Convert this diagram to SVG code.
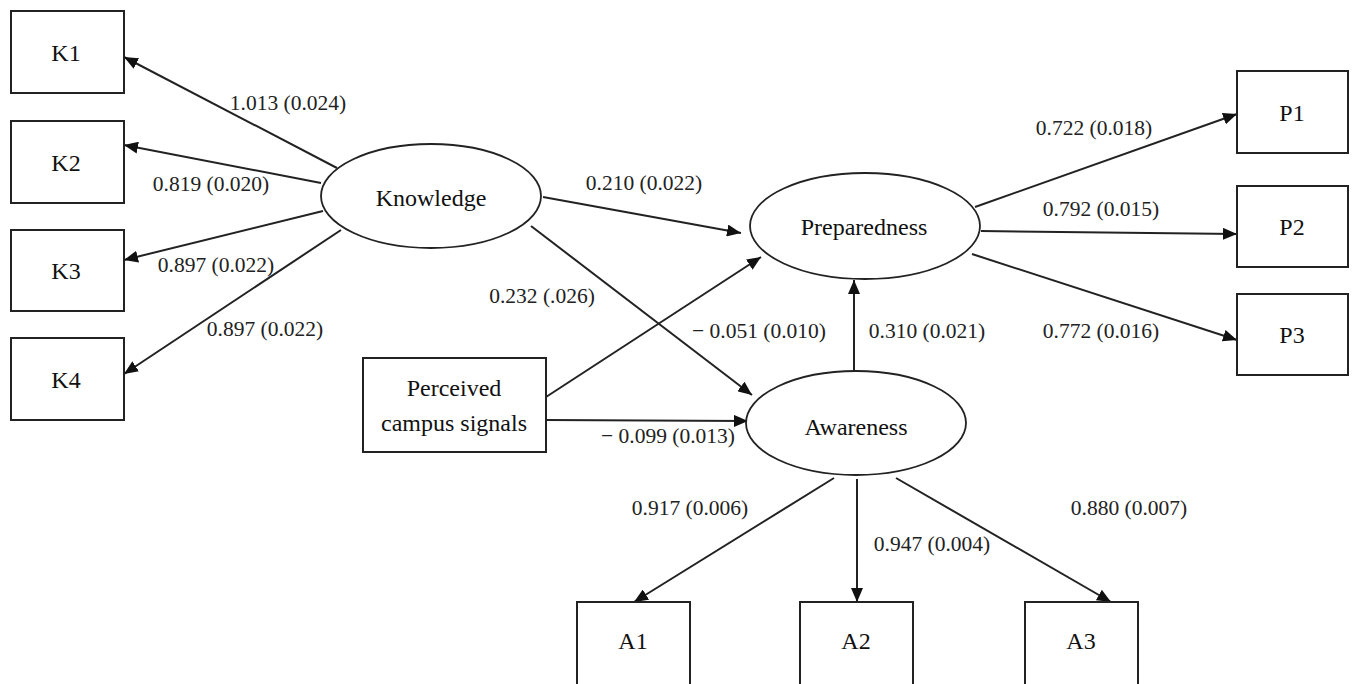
<svg xmlns="http://www.w3.org/2000/svg" width="1353" height="684" viewBox="0 0 1353 684">
<style>
.box{fill:#fff;stroke:#222;stroke-width:2}
.ell{fill:#fff;stroke:#222;stroke-width:1.8}
.nt{font-family:"Liberation Serif","Times New Roman",serif;font-size:24px;fill:#111;text-anchor:middle}
.lb{font-family:"Liberation Serif","Times New Roman",serif;font-size:21.5px;fill:#222;text-anchor:middle}
.cn{stroke:#222;stroke-width:2;fill:none;marker-end:url(#ah)}
</style>
<defs>
<marker id="ah" markerUnits="userSpaceOnUse" markerWidth="15" markerHeight="12" refX="14" refY="6" orient="auto">
<path d="M0,0 L14,6 L0,12 z" fill="#111"/>
</marker>
</defs>
<rect width="1353" height="684" fill="#fff"/>
<g id="connectors">
<line class="cn" x1="337" y1="168" x2="124" y2="57"/>
<line class="cn" x1="321" y1="183" x2="124" y2="145"/>
<line class="cn" x1="323" y1="211" x2="124" y2="260"/>
<line class="cn" x1="341" y1="230" x2="124" y2="374"/>
<line class="cn" x1="543" y1="197" x2="741" y2="233"/>
<line class="cn" x1="531" y1="226" x2="752" y2="395"/>
<line class="cn" x1="546" y1="397" x2="761" y2="257"/>
<line class="cn" x1="546" y1="420" x2="748" y2="421"/>
<line class="cn" x1="854" y1="371" x2="854" y2="280"/>
<line class="cn" x1="975" y1="207" x2="1237" y2="114"/>
<line class="cn" x1="981" y1="231" x2="1237" y2="234"/>
<line class="cn" x1="972" y1="254" x2="1237" y2="340"/>
<line class="cn" x1="834" y1="478" x2="634" y2="602"/>
<line class="cn" x1="857" y1="479" x2="857" y2="602"/>
<line class="cn" x1="896" y1="478" x2="1111" y2="602"/>
</g>
<g id="labels">
<text class="lb" x="288" y="110">1.013 (0.024)</text>
<text class="lb" x="211" y="191">0.819 (0.020)</text>
<text class="lb" x="216" y="272">0.897 (0.022)</text>
<text class="lb" x="265" y="336">0.897 (0.022)</text>
<text class="lb" x="644" y="190">0.210 (0.022)</text>
<text class="lb" x="542" y="303">0.232 (.026)</text>
<text class="lb" x="759" y="338">− 0.051 (0.010)</text>
<text class="lb" x="927" y="338">0.310 (0.021)</text>
<text class="lb" x="668" y="443">− 0.099 (0.013)</text>
<text class="lb" x="1094" y="135">0.722 (0.018)</text>
<text class="lb" x="1101" y="216">0.792 (0.015)</text>
<text class="lb" x="1101" y="338">0.772 (0.016)</text>
<text class="lb" x="690" y="515">0.917 (0.006)</text>
<text class="lb" x="932" y="551">0.947 (0.004)</text>
<text class="lb" x="1129" y="515">0.880 (0.007)</text>
</g>
<g id="K1"><rect class="box" x="11" y="11" width="113" height="82"/><text class="nt" x="66" y="61">K1</text></g>
<g id="K2"><rect class="box" x="11" y="121" width="113" height="82"/><text class="nt" x="66" y="171">K2</text></g>
<g id="K3"><rect class="box" x="11" y="230" width="113" height="81"/><text class="nt" x="66" y="279">K3</text></g>
<g id="K4"><rect class="box" x="11" y="338" width="113" height="82"/><text class="nt" x="66" y="388">K4</text></g>
<g id="Knowledge"><ellipse class="ell" cx="431" cy="196" rx="110" ry="52"/><text class="nt" x="431" y="206">Knowledge</text></g>
<g id="Preparedness"><ellipse class="ell" cx="865" cy="226" rx="115" ry="53"/><text class="nt" x="864" y="235">Preparedness</text></g>
<g id="Awareness"><ellipse class="ell" cx="856" cy="423" rx="110" ry="52"/><text class="nt" x="856" y="435">Awareness</text></g>
<g id="Perceived"><rect class="box" x="363" y="358" width="183" height="94"/><text class="nt" x="454" y="396">Perceived</text><text class="nt" x="454" y="431">campus signals</text></g>
<g id="P1"><rect class="box" x="1237" y="71" width="111" height="82"/><text class="nt" x="1292" y="121">P1</text></g>
<g id="P2"><rect class="box" x="1237" y="186" width="111" height="81"/><text class="nt" x="1292" y="235">P2</text></g>
<g id="P3"><rect class="box" x="1237" y="294" width="111" height="81"/><text class="nt" x="1292" y="343">P3</text></g>
<g id="A1"><rect class="box" x="577" y="602" width="113" height="100"/><text class="nt" x="633" y="649">A1</text></g>
<g id="A2"><rect class="box" x="800" y="602" width="113" height="100"/><text class="nt" x="856" y="649">A2</text></g>
<g id="A3"><rect class="box" x="1025" y="602" width="113" height="100"/><text class="nt" x="1081" y="649">A3</text></g>
</svg>
